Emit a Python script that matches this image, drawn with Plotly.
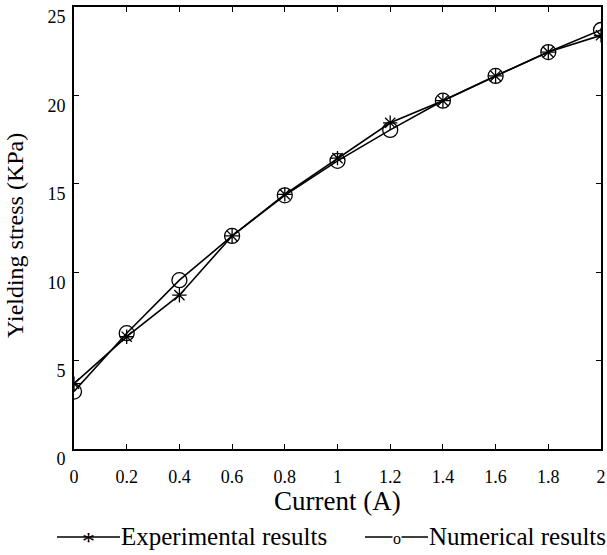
import plotly.graph_objects as go

current = [0, 0.2, 0.4, 0.6, 0.8, 1.0, 1.2, 1.4, 1.6, 1.8, 2.0]
experimental = [3.7, 6.35, 8.7, 12.05, 14.4, 16.45, 18.45, 19.7, 21.1, 22.45, 23.4]
numerical = [3.25, 6.55, 9.55, 12.05, 14.35, 16.3, 18.05, 19.7, 21.1, 22.45, 23.7]
x_ticks = [0, 0.2, 0.4, 0.6, 0.8, 1, 1.2, 1.4, 1.6, 1.8, 2]
x_tick_labels = ["0", "0.2", "0.4", "0.6", "0.8", "1", "1.2", "1.4", "1.6", "1.8", "2"]
y_ticks = [0, 5, 10, 15, 20, 25]
series_names = ["Experimental results", "Numerical results"]
legend_glyphs = ["*", "o"]

FONT = "Liberation Serif, Times New Roman, serif"

fig = go.Figure()
fig.add_trace(go.Scatter(x=current, y=experimental, mode="lines+markers", name=series_names[0],
                         line=dict(color="black", width=1.6),
                         marker=dict(symbol="asterisk-open", size=12, color="black",
                                     line=dict(color="black", width=1.3)),
                         showlegend=False))
fig.add_trace(go.Scatter(x=current, y=numerical, mode="lines+markers", name=series_names[1],
                         line=dict(color="black", width=1.6),
                         marker=dict(symbol="circle-open", size=15, color="black",
                                     line=dict(color="black", width=1.3)),
                         showlegend=False))

# manual legend (paper coordinates)
leg_y = -0.199
leg_entries = [(-0.0323, 0.0266, 0.0873), (0.5522, 0.6129, 0.6717)]
glyph_style = {"*": dict(y=-0.2104, size=26, bg=None), "o": dict(y=-0.2025, size=16, bg="white")}
shapes = []
annotations = []
for (x0, xm, x1), name, glyph in zip(leg_entries, series_names, legend_glyphs):
    st = glyph_style[glyph]
    shapes.append(dict(type="line", xref="paper", yref="paper", x0=x0, x1=x1, y0=leg_y, y1=leg_y,
                       line=dict(color="black", width=1.6)))
    annotations.append(dict(text=name, xref="paper", yref="paper", x=x1, y=leg_y,
                            xanchor="left", yanchor="middle", showarrow=False,
                            font=dict(size=25, family=FONT), borderpad=0))
    annotations.append(dict(text=glyph, xref="paper", yref="paper", x=xm, y=st["y"],
                            xanchor="center", yanchor="middle", showarrow=False,
                            font=dict(size=st["size"], family=FONT),
                            bgcolor=st["bg"], borderpad=0))

annotations.append(dict(text="Yielding stress (KPa)", xref="paper", yref="paper",
                        x=-0.112, y=0.484, xanchor="center", yanchor="middle",
                        textangle=-90, showarrow=False, font=dict(size=24, family=FONT)))
annotations.append(dict(text="Current (A)", xref="paper", yref="paper",
                        x=0.5, y=-0.1176, xanchor="center", yanchor="middle",
                        showarrow=False, font=dict(size=27, family=FONT)))

fig.update_layout(
    width=607, height=555,
    margin=dict(l=74, r=6, t=7, b=106, autoexpand=False),
    paper_bgcolor="white", plot_bgcolor="white",
    font=dict(family=FONT, color="black", size=18),
    showlegend=False,
    xaxis=dict(range=[0, 2], tickvals=x_ticks, ticktext=x_tick_labels,
               ticks="inside", ticklen=5, tickwidth=1, tickcolor="black",
               showline=True, linecolor="black", linewidth=2, mirror="ticks",
               showgrid=False, zeroline=False, ticklabelstandoff=10,
               tickfont=dict(size=18)),
    yaxis=dict(range=[0, 25], tickvals=y_ticks,
               ticks="inside", ticklen=5, tickwidth=1, tickcolor="black",
               showline=True, linecolor="black", linewidth=2, mirror="ticks",
               showgrid=False, zeroline=False, ticklabelshift=10, ticklabelstandoff=3,
               tickfont=dict(size=18)),
    shapes=shapes,
    annotations=annotations,
)

fig.write_html("out.html")
